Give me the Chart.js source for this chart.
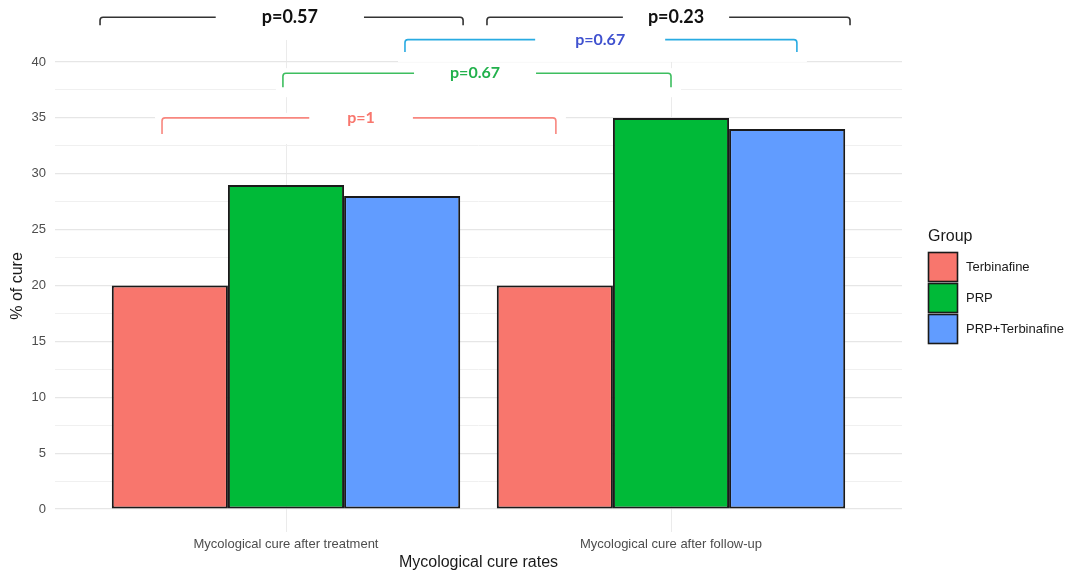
<!DOCTYPE html>
<html>
<head>
<meta charset="utf-8">
<script src="https://cdn.jsdelivr.net/npm/chart.js@4.4.1/dist/chart.umd.min.js"></script>
<style>
  html, body { margin: 0; padding: 0; background: #ffffff; }
  #wrap { width: 1070px; height: 573px; }
</style>
</head>
<body>
<div id="wrap"><canvas id="c" width="1070" height="573"></canvas></div>
<script>
// ---- data ----
const categories = ['Mycological cure after treatment', 'Mycological cure after follow-up'];
const groups = ['Terbinafine', 'PRP', 'PRP+Terbinafine'];
const terbinafineCure = [20, 20];
const prpCure = [29, 35];
const prpTerbinafineCure = [28, 34];
const yTicks = [0, 5, 10, 15, 20, 25, 30, 35, 40];
const groupColors = ['#F8766D', '#00BA38', '#619CFF'];

// significance brackets (x in category units, y in % units)
const bracketLabels = ['p=0.57', 'p=0.23', 'p=0.67', 'p=0.67', 'p=1'];
const bracketX1 = [0.517, 1.522, 1.309, 0.992, 0.678];
const bracketX2 = [1.460, 2.465, 2.327, 2.000, 1.701];
const bracketLabelX = [1.010, 2.013, 1.816, 1.491, 1.195];
const bracketY = [44.0, 44.0, 42.0, 39.0, 35.0];
const bracketTip = [0.7, 0.7, 1.1, 1.25, 1.45];

// styles for brackets
const bracketLineColors = ['#333333', '#333333', '#29ABE2', '#3DBE5F', '#F8877F'];
const bracketTextColors = ['#111111', '#111111', '#3F51CF', '#22B14C', '#F8766D'];
const bracketFonts = ['bold 18px Lato', 'bold 18px Lato', 'bold 16px Lato', 'bold 16px Lato', 'bold 16px Lato'];
const bracketGap = [46, 25, 40, 36, 38];

const seriesValues = [terbinafineCure, prpCure, prpTerbinafineCure];

const bracketPlugin = {
  id: 'brackets',
  afterDraw(chart) {
    const ctx = chart.ctx;
    const xs = chart.scales.x, ys = chart.scales.y;
    ctx.save();
    for (let i = 0; i < bracketLabels.length; i++) {
      const x1 = xs.getPixelForValue(bracketX1[i]);
      const x2 = xs.getPixelForValue(bracketX2[i]);
      const y = ys.getPixelForValue(bracketY[i]);
      const yt = ys.getPixelForValue(bracketY[i] - bracketTip[i]);
      ctx.fillStyle = '#ffffff';
      ctx.fillRect(x1 - 7, y - 5, (x2 - x1) + 17, (yt - y) + 15);
    }
    for (let i = 0; i < bracketLabels.length; i++) {
      const x1 = xs.getPixelForValue(bracketX1[i]);
      const x2 = xs.getPixelForValue(bracketX2[i]);
      const y = ys.getPixelForValue(bracketY[i]);
      const yt = ys.getPixelForValue(bracketY[i] - bracketTip[i]);
      const r = 3;
      ctx.beginPath();
      ctx.moveTo(x1, yt);
      ctx.lineTo(x1, y + r);
      ctx.arcTo(x1, y, x1 + r, y, r);
      ctx.lineTo(x2 - r, y);
      ctx.arcTo(x2, y, x2, y + r, r);
      ctx.lineTo(x2, yt);
      ctx.strokeStyle = bracketLineColors[i];
      ctx.lineWidth = 1.6;
      ctx.stroke();
      const lx = xs.getPixelForValue(bracketLabelX[i]);
      ctx.font = bracketFonts[i];
      const w = ctx.measureText(bracketLabels[i]).width;
      ctx.fillStyle = '#ffffff';
      ctx.fillRect(lx - w / 2 - bracketGap[i], y - 10, w + 2 * bracketGap[i], 20);
      ctx.fillStyle = bracketTextColors[i];
      ctx.textAlign = 'center';
      ctx.textBaseline = 'middle';
      ctx.fillText(bracketLabels[i], lx, y);
    }
    ctx.restore();
  }
};

const legendPlugin = {
  id: 'sideLegend',
  afterDraw(chart) {
    const ctx = chart.ctx;
    ctx.save();
    ctx.fillStyle = '#1a1a1a';
    ctx.font = '16px "Liberation Sans"';
    ctx.textAlign = 'left';
    ctx.textBaseline = 'middle';
    ctx.fillText('Group', 928, 237);
    chart.data.datasets.forEach((ds, i) => {
      const top = 252 + i * 31;
      ctx.fillStyle = ds.backgroundColor;
      ctx.fillRect(928.5, top + 0.5, 29, 29);
      ctx.strokeStyle = '#1a1a1a';
      ctx.lineWidth = 1.6;
      ctx.strokeRect(928.5, top + 0.5, 29, 29);
      ctx.fillStyle = '#1a1a1a';
      ctx.font = '13px "Liberation Sans"';
      ctx.fillText(ds.label, 966, top + 15.5);
    });
    ctx.restore();
  }
};

new Chart(document.getElementById('c'), {
  type: 'bar',
  data: {
    datasets: groups.map((g, i) => ({
      label: g,
      data: seriesValues[i].map((v, j) => ({ x: j + 1, y: v })),
      backgroundColor: groupColors[i],
      borderColor: '#1a1a1a',
      borderWidth: 2,
      borderSkipped: false,
      categoryPercentage: 0.905,
      barPercentage: 1.0
    }))
  },
  options: {
    responsive: false,
    devicePixelRatio: 1,
    animation: false,
    layout: { padding: { left: 0, top: 40, right: 168, bottom: 0 } },
    plugins: { legend: { display: false }, tooltip: { enabled: false } },
    scales: {
      x: {
        type: 'linear',
        min: 0.4,
        max: 2.6,
        offset: false,
        afterBuildTicks(scale) { scale.ticks = categories.map((c, i) => ({ value: i + 1 })); },
        afterFit(scale) { scale.height = 41; },
        ticks: {
          autoSkip: false,
          maxRotation: 0,
          padding: 5,
          color: '#4d4d4d',
          font: { family: '"Liberation Sans"', size: 13 },
          callback: (v) => categories[Math.round(v) - 1]
        },
        grid: { offset: false, color: '#ebebeb', lineWidth: 1, drawTicks: false },
        border: { display: false },
        title: {
          display: true,
          text: 'Mycological cure rates',
          color: '#1a1a1a',
          font: { family: '"Liberation Sans"', size: 16 },
          padding: { top: 0, bottom: 1 }
        }
      },
      y: {
        type: 'linear',
        min: -2.06,
        max: 41.97,
        afterBuildTicks(scale) {
          const vals = [];
          yTicks.forEach((t, i) => {
            vals.push(t);
            if (i < yTicks.length - 1) vals.push((t + yTicks[i + 1]) / 2);
          });
          scale.ticks = vals.map(v => ({ value: v }));
        },
        afterFit(scale) { scale.width = 55; },
        ticks: {
          autoSkip: false,
          padding: 9,
          color: '#4d4d4d',
          font: { family: '"Liberation Sans"', size: 13 },
          callback: (v) => (yTicks.includes(v) ? String(v) : '')
        },
        grid: {
          color: (c) => (c.tick && yTicks.includes(c.tick.value) ? '#e6e6e6' : '#f0f0f0'),
          lineWidth: (c) => (c.tick && yTicks.includes(c.tick.value) ? 1.2 : 1),
          drawTicks: false
        },
        border: { display: false },
        title: {
          display: true,
          text: '% of cure',
          color: '#1a1a1a',
          font: { family: '"Liberation Sans"', size: 16 },
          padding: { top: 8, bottom: 0 }
        }
      }
    }
  },
  plugins: [bracketPlugin, legendPlugin]
});
</script>
</body>
</html>
